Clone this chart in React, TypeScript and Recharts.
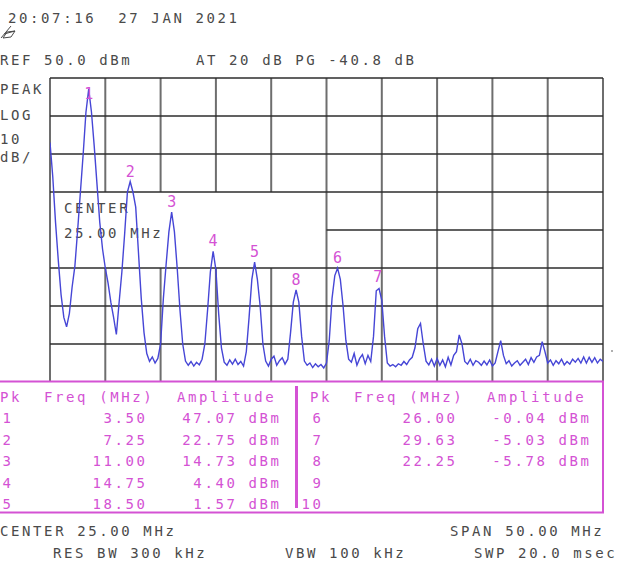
import React from 'react';
import { ComposedChart, Line, Scatter, XAxis, YAxis, ReferenceLine } from 'recharts';

// sweep 0 - 50 MHz, sampled every 0.25 MHz
const sweepStart = 0;
const sweepStep = 0.25;

// trace level in dBm (201 points)
const traceLevel = [
    33, 24, 12, 2, -7, -13, -15.5, -12, -5, 0.5,
    10, 20, 30, 41, 47.07, 41, 32, 22, 12, 5,
    0, -4, -9, -13, -17.5, -9, -1, 9, 20, 22.75,
    20, 16, 4, -8, -17, -22.5, -24.6, -23.4, -25, -23.8,
    -20, -8, 1, 9.5, 14.73, 9.5, 0, -11, -20, -24.5,
    -25.6, -24.6, -25.8, -24.8, -25.5, -24, -20, -11, -1, 4.4,
    -0.5, -12, -21, -24.8, -25.6, -24.2, -25.3, -24, -25.4, -24.6,
    -25.8, -22, -13, -3, 1.57, -3, -10, -20, -24.5, -25.8,
    -24, -23.2, -25.6, -24.4, -23.6, -25.3, -24, -17, -9, -5.78,
    -9, -18, -24.5, -25.6, -25, -26.2, -25.2, -26, -25.4, -26.3,
    -25, -19, -8, -2, -0.04, -3, -10, -19, -24, -24.8,
    -22.5, -25.6, -23.8, -22.8, -25.2, -23, -24.6, -18, -6, -5.4,
    -8.5, -18, -25, -25.8, -25.4, -26, -25.2, -25.6, -24.6, -25.4,
    -24.2, -23.5, -21, -16, -14.6, -20, -24.5, -25.5, -24, -25.8,
    -23.8, -25.6, -24.2, -26, -23.5, -25.5, -23, -22, -17.6, -20,
    -24.6, -25.3, -24, -25.6, -24.4, -24.8, -25.6, -24.5, -25.5, -24.2,
    -25.8, -25, -22, -19.1, -23, -25.2, -24.4, -25.8, -25, -24.4,
    -25.6, -24.8, -24, -25.4, -23.6, -24.8, -23.4, -23, -19.4, -22,
    -25, -24.2, -25.6, -24.4, -25.2, -24, -25.5, -24.6, -25.3, -24,
    -24.8, -23.8, -25, -23.4, -25, -23.5, -24.8, -23.6, -25, -24,
    -24.6,
];

// peak markers
const markerId = [1, 2, 3, 4, 5, 6, 7, 8];
const markerFreq = [3.5, 7.25, 11.0, 14.75, 18.5, 26.0, 29.63, 22.25];
const markerLevel = [47.07, 22.75, 14.73, 4.4, 1.57, -0.04, -5.03, -5.78];

// graticule: 5 MHz/div, 10 dB/div, ref 50 dBm (lower part hidden by the table)
const freqTicks = [0, 5, 10, 15, 20, 25, 30, 35, 40, 45, 50];
const levelTicks = [-30, -20, -10, 0, 10, 20, 30, 40, 50];

// CENTER readout blanks this part of the graticule
const blankFreq = [0, 25];
const blankLevel = [0, 20];

const headerLines = ['20:07:16  27 JAN 2021', 'REF 50.0 dBm', 'AT 20 dB PG -40.8 dB'];
const scaleLines = ['PEAK', 'LOG', '10', 'dB/'];
const centerLines = ['CENTER', '25.00 MHz'];
const footerLines = ['CENTER 25.00 MHz', 'SPAN 50.00 MHz', 'RES BW 300 kHz', 'VBW 100 kHz', 'SWP 20.0 msec'];
const tableRows = 5;

const FONT = "'DejaVu Sans Mono', 'Liberation Mono', monospace";
const LS = 2.6;
const GRAY = '#4a4a4a';
const MAGENTA = '#d452d4';

const traceData = traceLevel.map((level, i) => ({ freq: sweepStart + i * sweepStep, level }));
const markerData = markerId.map((id, i) => ({ id, freq: markerFreq[i], level: markerLevel[i] }));

const fMin = freqTicks[0];
const fMax = freqTicks[freqTicks.length - 1];
const lMin = levelTicks[0];
const lMax = levelTicks[levelTicks.length - 1];

// build grid segments around the blanked box
const hSegments = levelTicks.map(v =>
    v > blankLevel[0] && v < blankLevel[1]
        ? [{ x: blankFreq[1], y: v }, { x: fMax, y: v }]
        : [{ x: fMin, y: v }, { x: fMax, y: v }]
);
const vSegments = freqTicks.flatMap(f =>
    f > blankFreq[0] && f < blankFreq[1]
        ? [
            [{ x: f, y: lMin }, { x: f, y: blankLevel[0] }],
            [{ x: f, y: blankLevel[1] }, { x: f, y: lMax }],
        ]
        : [[{ x: f, y: lMin }, { x: f, y: lMax }]]
);

function Txt({ x, y, text, fill = GRAY, anchor = 'start', size = 14 }: any) {
    // end anchored text carries the trailing letter spacing, shift it back
    const dx = anchor === 'end' ? LS : 0;
    return (
        <text
            x={x + dx}
            y={y}
            fill={fill}
            fontFamily={FONT}
            fontSize={size}
            letterSpacing={LS}
            textAnchor={anchor}
            style={{ whiteSpace: 'pre' }}>
            {text}
        </text>
    );
}

function MarkerLabel(props: any) {
    const { cx, cy, payload } = props;
    return (
        <text x={cx} y={Math.max(cy - 5, 99)} fill={MAGENTA} fontFamily={FONT} fontSize={15} textAnchor="middle">
            {payload.id}
        </text>
    );
}

function Background() {
    return (
        <svg width={627} height={563} style={{ position: 'absolute', left: 0, top: 0 }}>
            <Txt x={8} y={23} text={headerLines[0]} />
            <g stroke={GRAY} strokeWidth={1} fill="none">
                <path d="M1 38 L11 26 M4 34 L15 31" />
                <path d="M3 38 L7 32 L15 31 L11 37 Z" />
            </g>
            <Txt x={0} y={65} text={headerLines[1]} />
            <Txt x={196} y={65} text={headerLines[2]} />
            {scaleLines.map((s, i) => (
                <Txt key={s} x={0} y={[94, 120, 144, 162][i]} text={s} />
            ))}
            <Txt x={64} y={213} text={centerLines[0]} />
            <Txt x={64} y={238} text={centerLines[1]} />
            <circle cx={612} cy={351} r={0.8} fill={GRAY} />
        </svg>
    );
}

function MarkerTable() {
    const halves = [0, 310];
    return (
        <svg width={627} height={563} style={{ position: 'absolute', left: 0, top: 0 }}>
            <rect x={-2} y={381.5} width={605} height={131} fill="#fff" stroke={MAGENTA} strokeWidth={2} />
            <rect x={295} y={386} width={3} height={122} fill={MAGENTA} />
            {halves.map((x0, h) => (
                <g key={h}>
                    <Txt x={x0} y={402} text="Pk" fill={MAGENTA} />
                    <Txt x={x0 + 44} y={402} text="Freq (MHz)" fill={MAGENTA} />
                    <Txt x={x0 + 177} y={402} text="Amplitude" fill={MAGENTA} />
                    {Array.from({ length: tableRows }).map((_, r) => {
                        const idx = h * tableRows + r;
                        const y = 423 + r * 21.6;
                        return (
                            <g key={r}>
                                <Txt x={x0 + 11} y={y} text={String(idx + 1)} fill={MAGENTA} anchor="end" />
                                {idx < markerFreq.length && (
                                    <>
                                        <Txt x={x0 + 145} y={y} text={markerFreq[idx].toFixed(2)} fill={MAGENTA} anchor="end" />
                                        <Txt x={x0 + 279} y={y} text={`${markerLevel[idx].toFixed(2)} dBm`} fill={MAGENTA} anchor="end" />
                                    </>
                                )}
                            </g>
                        );
                    })}
                </g>
            ))}
            <Txt x={0} y={536} text={footerLines[0]} />
            <Txt x={450} y={536} text={footerLines[1]} />
            <Txt x={53} y={558} text={footerLines[2]} />
            <Txt x={285} y={558} text={footerLines[3]} />
            <Txt x={474} y={558} text={footerLines[4]} />
        </svg>
    );
}

export default function App() {
    return (
        <div style={{ position: 'absolute', left: 0, top: 0, width: 627, height: 563, background: '#fff', overflow: 'hidden' }}>
            <Background />
            <div style={{ position: 'absolute', left: 0, top: 0 }}>
                <ComposedChart
                    width={627}
                    height={563}
                    data={traceData}
                    margin={{ top: 78, right: 24, bottom: 181, left: 50 }}>
                    <XAxis type="number" dataKey="freq" domain={[fMin, fMax]} ticks={freqTicks} allowDataOverflow hide />
                    <YAxis type="number" domain={[lMin, lMax]} ticks={levelTicks} allowDataOverflow hide />
                    {vSegments.map((seg, i) => (
                        <ReferenceLine key={`v${i}`} segment={seg} stroke="#6e6e6e" strokeWidth={2} />
                    ))}
                    {hSegments.map((seg, i) => (
                        <ReferenceLine key={`h${i}`} segment={seg} stroke="#2c2c2c" strokeWidth={1.5} />
                    ))}
                    <Line
                        type="linear"
                        dataKey="level"
                        stroke="#4646d6"
                        strokeWidth={1.4}
                        dot={false}
                        activeDot={false}
                        isAnimationActive={false}
                    />
                    <Scatter
                        data={markerData}
                        dataKey="level"
                        shape={MarkerLabel}
                        isAnimationActive={false}
                    />
                </ComposedChart>
            </div>
            <MarkerTable />
        </div>
    );
}
